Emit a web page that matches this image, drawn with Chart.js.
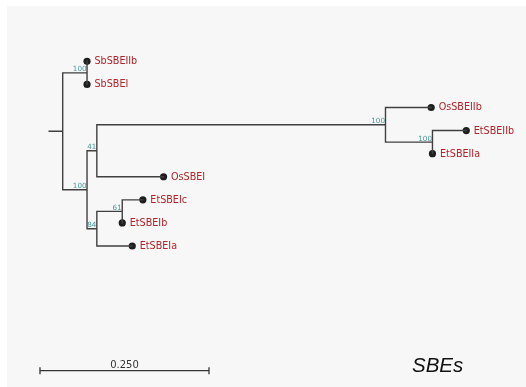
<!DOCTYPE html>
<html>
<head>
<meta charset="utf-8">
<script src="https://cdn.jsdelivr.net/npm/chart.js@4.4.1/dist/chart.umd.min.js"></script>
<style>
  html, body { margin: 0; padding: 0; background: #fff; }
  #wrap { width: 526px; height: 387px; position: relative; }
</style>
</head>
<body>
<div id="wrap"><canvas id="tree"></canvas></div>
<script>
// tree nodes in preorder; leaves carry a name, inner nodes carry bootstrap support
const nodeNames = ['', '', 'SbSBEIIb', 'SbSBEI', '', '', '', 'OsSBEIIb', '', 'EtSBEIIb', 'EtSBEIIa', 'OsSBEI', '', '', 'EtSBEIc', 'EtSBEIb', 'EtSBEIa'];
const parents = [-1, 0, 1, 1, 0, 4, 5, 6, 6, 8, 8, 5, 4, 12, 13, 13, 12];
const branchLengths = [0, 0.036, 0, 0, 0.036, 0.0145, 0.427, 0.0676, 0.0695, 0.050, 0, 0.0987, 0.0145, 0.0376, 0.0305, 0, 0.0524];
const support = [null, 100, null, null, 100, 41, 100, null, 100, null, null, null, 84, 61, null, null, null];
const rootStub = 0.02;
const scaleBarLength = 0.25;
const treeTitle = 'SBEs';

// layout: x = distance from root, y = leaf row
const n = parents.length;
const children = nodeNames.map(() => []);
parents.forEach((p, i) => { if (p >= 0) children[p].push(i); });
const nodeX = new Array(n).fill(0);
const nodeY = new Array(n).fill(0);
parents.forEach((p, i) => { nodeX[i] = (p >= 0 ? nodeX[p] : 0) + branchLengths[i]; });
let row = 0;
for (let i = 0; i < n; i++) if (children[i].length === 0) nodeY[i] = row++;
for (let i = n - 1; i >= 0; i--) {
  const c = children[i];
  if (c.length) nodeY[i] = (nodeY[c[0]] + nodeY[c[c.length - 1]]) / 2;
}

// branch segments, broken with null points
const branchPts = [];
const gap = () => branchPts.push({x: 0, y: null});
branchPts.push({x: -rootStub, y: nodeY[0]}, {x: 0, y: nodeY[0]}); gap();
for (let i = 1; i < n; i++) {
  const p = parents[i];
  branchPts.push({x: nodeX[p], y: nodeY[i]}, {x: nodeX[i], y: nodeY[i]}); gap();
}
for (let i = 0; i < n; i++) {
  const c = children[i];
  if (!c.length) continue;
  branchPts.push({x: nodeX[i], y: nodeY[c[0]]}, {x: nodeX[i], y: nodeY[c[c.length - 1]]}); gap();
}
const leafPts = [];
for (let i = 0; i < n; i++) if (!children[i].length) leafPts.push({x: nodeX[i], y: nodeY[i], name: nodeNames[i]});

const scaleBarX = -0.0336;
const scaleBarY = 13.4;

const treeDecor = {
  id: 'treeDecor',
  beforeDraw(chart) {
    const ctx = chart.ctx;
    ctx.save();
    ctx.fillStyle = '#f7f7f7';
    ctx.fillRect(7, 6, chart.width - 7, chart.height - 6);
    ctx.restore();
  },
  afterDatasetsDraw(chart) {
    const ctx = chart.ctx;
    const xs = chart.scales.x, ys = chart.scales.y;
    ctx.save();
    // leaf names
    ctx.font = '9.6px "DejaVu Sans"';
    ctx.fillStyle = '#b0242a';
    ctx.textAlign = 'left';
    ctx.textBaseline = 'middle';
    leafPts.forEach(p => ctx.fillText(p.name, xs.getPixelForValue(p.x) + 7.5, ys.getPixelForValue(p.y) + 0.5));
    // bootstrap values
    ctx.font = '7.2px "DejaVu Sans"';
    ctx.fillStyle = '#4a9a9a';
    ctx.textAlign = 'right';
    ctx.textBaseline = 'alphabetic';
    support.forEach((s, i) => {
      if (s == null) return;
      ctx.fillText(String(s), xs.getPixelForValue(nodeX[i]) - 0.5, ys.getPixelForValue(nodeY[i]) - 1.5);
    });
    // scale bar
    const x0 = xs.getPixelForValue(scaleBarX);
    const x1 = xs.getPixelForValue(scaleBarX + scaleBarLength);
    const yb = ys.getPixelForValue(scaleBarY);
    ctx.strokeStyle = '#333';
    ctx.lineWidth = 1.3;
    ctx.beginPath();
    ctx.moveTo(x0, yb); ctx.lineTo(x1, yb);
    ctx.moveTo(x0, yb - 3.5); ctx.lineTo(x0, yb + 3.5);
    ctx.moveTo(x1, yb - 3.5); ctx.lineTo(x1, yb + 3.5);
    ctx.stroke();
    ctx.font = '10px "DejaVu Sans"';
    ctx.fillStyle = '#333';
    ctx.textAlign = 'center';
    ctx.fillText(scaleBarLength.toFixed(3), (x0 + x1) / 2, yb - 3);
    // title
    ctx.font = 'italic 20.5px "Liberation Sans"';
    ctx.fillStyle = '#111';
    ctx.textAlign = 'left';
    ctx.fillText(treeTitle, 412, 372);
    ctx.restore();
  }
};

new Chart(document.getElementById('tree'), {
  type: 'scatter',
  data: {
    datasets: [{
      label: 'branches',
      data: branchPts,
      showLine: true,
      spanGaps: false,
      borderColor: '#404040',
      borderWidth: 1.4,
      borderCapStyle: 'square',
      pointRadius: 0
    }, {
      label: 'leaves',
      data: leafPts,
      showLine: false,
      pointRadius: 3.6,
      pointBackgroundColor: '#1e1e1e',
      pointBorderWidth: 0
    }]
  },
  plugins: [treeDecor],
  options: {
    responsive: true,
    maintainAspectRatio: false,
    animation: false,
    layout: { padding: 0, autoPadding: false },
    plugins: {
      legend: { display: false },
      tooltip: { enabled: false }
    },
    scales: {
      x: { type: 'linear', display: false, min: -0.09275, max: 0.68536 },
      y: { type: 'linear', display: false, reverse: true, min: -2.655, max: 14.106 }
    }
  }
});
</script>
</body>
</html>
